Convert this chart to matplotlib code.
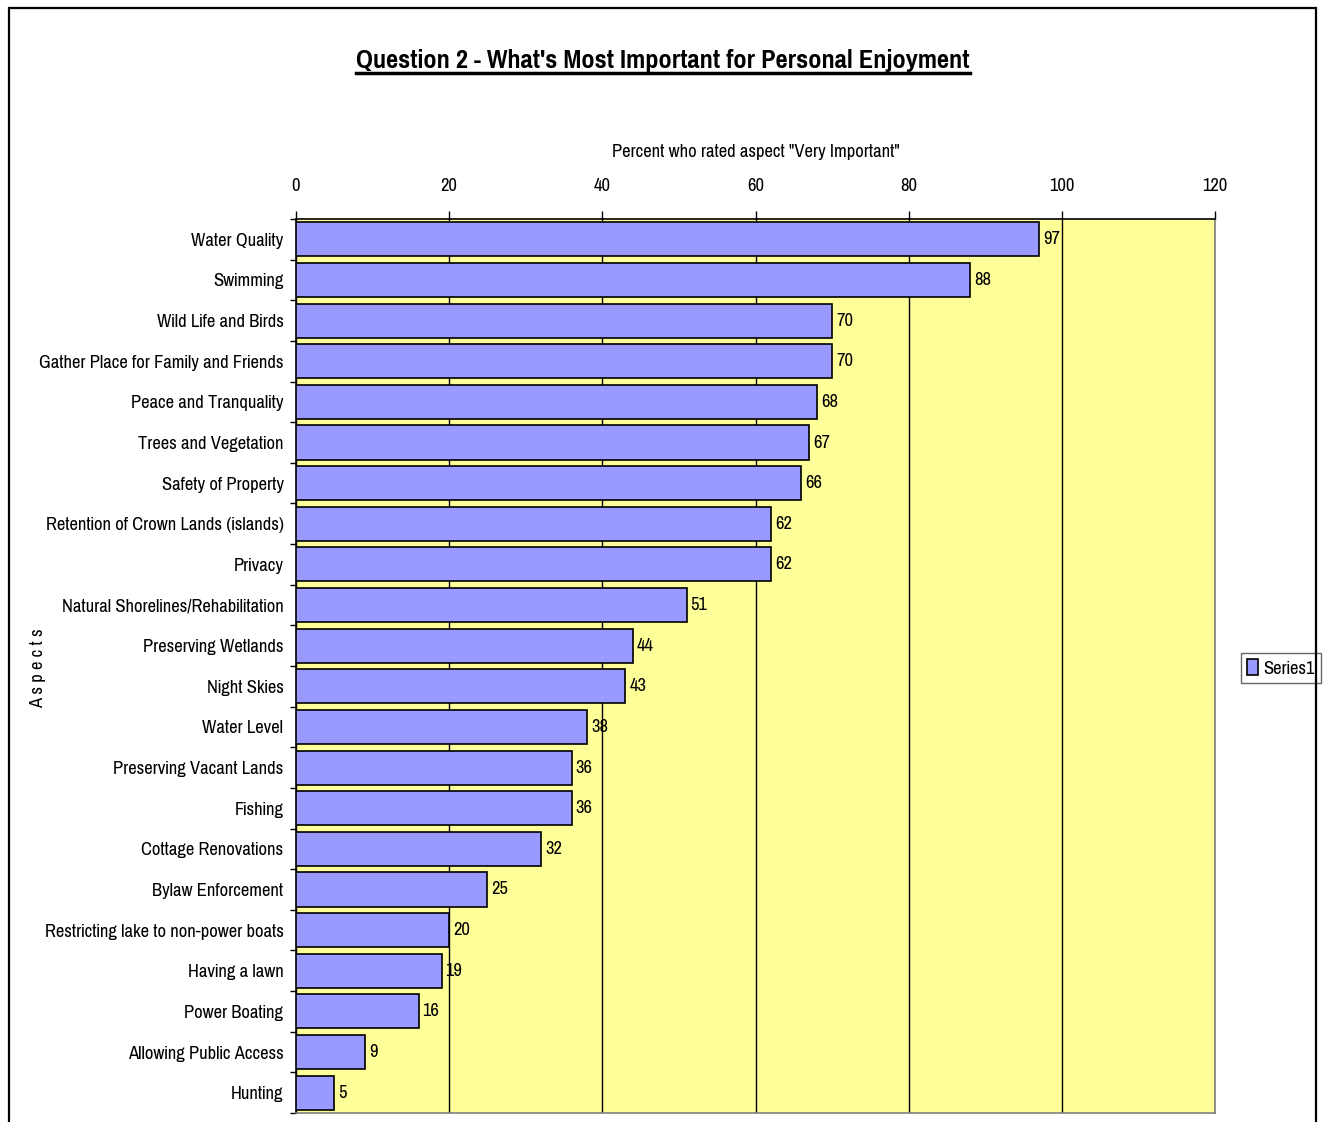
import matplotlib
matplotlib.use("Agg")
import matplotlib.pyplot as plt
from matplotlib.patches import Rectangle
from matplotlib.lines import Line2D
import numpy as np

plt.rcParams['font.family'] = ['Pragati Narrow', 'Archivo Narrow', 'DejaVu Sans']

aspects = ["Water Quality", "Swimming", "Wild Life and Birds",
           "Gather Place for Family and Friends", "Peace and Tranquality",
           "Trees and Vegetation", "Safety of Property",
           "Retention of Crown Lands (islands)", "Privacy",
           "Natural Shorelines/Rehabilitation", "Preserving Wetlands",
           "Night Skies", "Water Level", "Preserving Vacant Lands", "Fishing",
           "Cottage Renovations", "Bylaw Enforcement",
           "Restricting lake to non-power boats", "Having a lawn",
           "Power Boating", "Allowing Public Access", "Hunting"]
percent = [97, 88, 70, 70, 68, 67, 66, 62, 62, 51, 44, 43, 38, 36, 36, 32,
           25, 20, 19, 16, 9, 5]
xticks = [0, 20, 40, 60, 80, 100, 120]

W, H = 1324, 1122
FS = 14.5
fig = plt.figure(figsize=(W / 100, H / 100), dpi=100)

# outer chart border
fig.patches.append(Rectangle((9 / W, -0.05), (1316 - 9) / W, 1 - 8 / H + 0.05,
                             transform=fig.transFigure, fill=False,
                             edgecolor='black', linewidth=1.6))

ax = fig.add_axes([296 / W, 1 - 1113 / H, (1215 - 296) / W, (1113 - 219) / H])
ax.set_facecolor('#FFFF99')

y = np.arange(len(aspects))
ax.barh(y, percent, height=0.84, color='#9999FF', edgecolor='black',
        linewidth=1.2, label='Series1', zorder=3)
for yi, v in zip(y, percent):
    ax.annotate(str(v), (v, yi), xytext=(4, 0), textcoords='offset pixels',
                va='center', ha='left', fontsize=FS, zorder=4)

ax.set_xlim(0, 120)
ax.set_ylim(len(aspects) - 0.5, -0.5)
ax.xaxis.tick_top()
ax.xaxis.set_label_position('top')
ax.set_xticks(xticks)
ax.tick_params(axis='x', direction='out', length=6, width=1, labelsize=FS, pad=12)
ax.set_yticks(y)
ax.set_yticklabels(aspects)
ax.set_yticks(np.arange(len(aspects) + 1) - 0.5, minor=True)
ax.tick_params(axis='y', which='major', length=0, labelsize=FS, pad=9)
ax.tick_params(axis='y', which='minor', direction='out', length=4, width=1)
ax.grid(axis='x', color='black', linewidth=1, zorder=1)

ax.spines['top'].set_color('black')
ax.spines['left'].set_color('black')
ax.spines['right'].set_color('#808080')
ax.spines['bottom'].set_color('#808080')
for s in ax.spines.values():
    s.set_linewidth(1.2)

ax.set_xlabel('Percent who rated aspect "Very Important"', fontsize=FS, labelpad=15)
fig.text(38 / W, 1 - 668 / H, "A s p e c t s", rotation=90, fontsize=FS,
         ha='center', va='center')

leg = ax.legend(loc='center left', bbox_to_anchor=(1241 / W, 1 - 668 / H),
                bbox_transform=fig.transFigure, fontsize=FS, frameon=True,
                fancybox=False, edgecolor='#404040', handlelength=0.55,
                handleheight=0.8, handletextpad=0.25, borderpad=0.3,
                borderaxespad=0)
leg.get_frame().set_linewidth(1)

title = fig.text(663 / W, 1 - 60 / H,
                 "Question 2 - What's Most Important for Personal Enjoyment",
                 ha='center', va='center', fontsize=20, fontweight='bold')
fig.canvas.draw()
# fit title to the reference width (~613 px)
tw = title.get_window_extent().width
title.set_fontsize(20 * 613 / tw)
fig.canvas.draw()
bb = title.get_window_extent().transformed(fig.transFigure.inverted())
fig.lines.append(Line2D([bb.x0, bb.x1], [bb.y0 - 0.001, bb.y0 - 0.001],
                        transform=fig.transFigure, color='black', linewidth=2.5))

fig.savefig("out.png", dpi=100)
